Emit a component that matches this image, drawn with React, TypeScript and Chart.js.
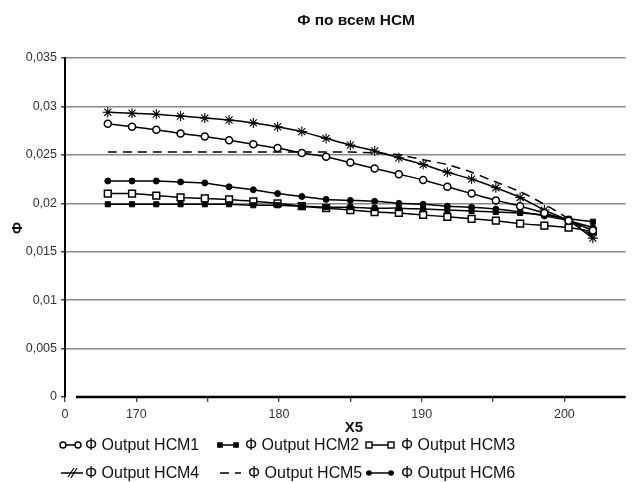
import React, { useEffect, useRef } from 'react';
import { Chart, registerables } from 'chart.js';

Chart.register(...registerables);

const FONT = '"Liberation Sans", Arial, sans-serif';

const titleText = 'Ф по всем НСМ';
const xTitle = 'X5';
const yTitle = 'Ф';

const xValues = [168, 169.7, 171.4, 173.1, 174.8, 176.5, 178.2, 179.9, 181.6, 183.3, 185, 186.7, 188.4, 190.1, 191.8, 193.5, 195.2, 196.9, 198.6, 200.3, 202];

const hcm1 = [0.0282, 0.0279, 0.0276, 0.0272, 0.0269, 0.0265, 0.0261, 0.0257, 0.0252, 0.0248, 0.0242, 0.0236, 0.0230, 0.0224, 0.0217, 0.0210, 0.0203, 0.0197, 0.0190, 0.0182, 0.0172];
const hcm2 = [0.0199, 0.0199, 0.0199, 0.0199, 0.0199, 0.0199, 0.0198, 0.0198, 0.0197, 0.0196, 0.0196, 0.0195, 0.0195, 0.0194, 0.0193, 0.0192, 0.0191, 0.0190, 0.0188, 0.0184, 0.0181];
const hcm3 = [0.0210, 0.0210, 0.0208, 0.0206, 0.0205, 0.0204, 0.0202, 0.0200, 0.0197, 0.0195, 0.0193, 0.0191, 0.0190, 0.0188, 0.0186, 0.0184, 0.0182, 0.0179, 0.0177, 0.0175, 0.0171];
const hcm4 = [0.0294, 0.0293, 0.0292, 0.0290, 0.0288, 0.0286, 0.0283, 0.0279, 0.0274, 0.0267, 0.0260, 0.0254, 0.0247, 0.0240, 0.0232, 0.0225, 0.0216, 0.0206, 0.0193, 0.0182, 0.0164];
const hcm5 = [0.0253, 0.0253, 0.0253, 0.0253, 0.0253, 0.0253, 0.0253, 0.0253, 0.0253, 0.0253, 0.0253, 0.0252, 0.0250, 0.0245, 0.0240, 0.0232, 0.0222, 0.0212, 0.0199, 0.0184, 0.0166];
const hcm6 = [0.0223, 0.0223, 0.0223, 0.0222, 0.0221, 0.0217, 0.0214, 0.0210, 0.0207, 0.0204, 0.0203, 0.0202, 0.0200, 0.0199, 0.0197, 0.0196, 0.0194, 0.0191, 0.0187, 0.0182, 0.0175];

const seriesLabels = ['Ф Output НСМ1', 'Ф Output НСМ2', 'Ф Output НСМ3', 'Ф Output НСМ4', 'Ф Output НСМ5', 'Ф Output НСМ6'];
const xTickValues = [165, 170, 175, 180, 185, 190, 195, 200];
const xTickLabels = ['0', '170', '', '180', '', '190', '', '200'];

const toPts = (ys: number[]) => ys.map((y, i) => ({ x: xValues[i], y }));

type Marker = 'circleOpen' | 'squareFilled' | 'squareOpen' | 'star' | 'none' | 'circleFilled';
const markers: Marker[] = ['circleOpen', 'squareFilled', 'squareOpen', 'star', 'none', 'circleFilled'];

const legendPos = [
  { sx: 60, ex: 81, tx: 85, y: 445 },
  { sx: 217, ex: 239, tx: 245, y: 445 },
  { sx: 366, ex: 394, tx: 401, y: 445 },
  { sx: 61, ex: 83, tx: 85, y: 473 },
  { sx: 220, ex: 241, tx: 248, y: 473 },
  { sx: 366, ex: 394, tx: 401, y: 473 },
];

function drawMarker(ctx: CanvasRenderingContext2D, m: Marker, x: number, y: number) {
  ctx.save();
  ctx.setLineDash([]);
  ctx.strokeStyle = '#000';
  ctx.lineWidth = 1.4;
  if (m === 'circleOpen') {
    ctx.fillStyle = '#fff';
    ctx.beginPath(); ctx.arc(x, y, 3, 0, Math.PI * 2); ctx.fill(); ctx.stroke();
  } else if (m === 'circleFilled') {
    ctx.fillStyle = '#000';
    ctx.beginPath(); ctx.arc(x, y, 2.8, 0, Math.PI * 2); ctx.fill();
  } else if (m === 'squareFilled') {
    ctx.fillStyle = '#000';
    ctx.fillRect(x - 2.8, y - 2.8, 5.6, 5.6);
  } else if (m === 'squareOpen') {
    ctx.fillStyle = '#fff';
    ctx.fillRect(x - 3, y - 3, 6, 6); ctx.strokeRect(x - 3, y - 3, 6, 6);
  } else if (m === 'star') {
    ctx.lineWidth = 1.2;
    ctx.beginPath();
    ctx.moveTo(x - 3, y + 5); ctx.lineTo(x + 3, y - 5);
    ctx.moveTo(x - 6, y + 4); ctx.lineTo(x, y - 5);
    ctx.stroke();
  }
  ctx.restore();
}

const decorPlugin = {
  id: 'decor',
  afterDraw(chart: any) {
    const ctx: CanvasRenderingContext2D = chart.ctx;
    const area = chart.chartArea;
    ctx.save();
    ctx.strokeStyle = '#000';
    ctx.lineWidth = 2.5;
    ctx.beginPath();
    ctx.moveTo(76, area.bottom);
    ctx.lineTo(area.right, area.bottom);
    ctx.stroke();

    ctx.fillStyle = '#111';
    ctx.textAlign = 'center';
    ctx.textBaseline = 'middle';
    ctx.font = `bold 15.5px ${FONT}`;
    ctx.fillText(titleText, 356, 21);
    ctx.font = `bold 15px ${FONT}`;
    ctx.fillText(xTitle, 354, 428);
    ctx.save();
    ctx.translate(18, 228);
    ctx.rotate(-Math.PI / 2);
    ctx.font = `bold 14px ${FONT}`;
    ctx.fillText(yTitle, 0, 0);
    ctx.restore();

    chart.data.datasets.forEach((ds: any, i: number) => {
      const p = legendPos[i];
      const m = markers[i];
      ctx.save();
      ctx.strokeStyle = '#000';
      ctx.lineWidth = 1.5;
      ctx.setLineDash(ds.borderDash || []);
      ctx.beginPath();
      ctx.moveTo(p.sx, p.y);
      ctx.lineTo(p.ex, p.y);
      ctx.stroke();
      ctx.restore();
      if (m === 'star') {
        drawMarker(ctx, m, (p.sx + p.ex) / 2 + 2, p.y);
      } else if (m !== 'none') {
        drawMarker(ctx, m, p.sx + 3, p.y);
        drawMarker(ctx, m, p.ex - 3, p.y);
      }
      ctx.fillStyle = '#111';
      ctx.textAlign = 'left';
      ctx.textBaseline = 'middle';
      ctx.font = `16px ${FONT}`;
      ctx.fillText(ds.label, p.tx, p.y + 1);
    });
    ctx.restore();
  },
};

const base = {
  borderColor: '#000',
  borderWidth: 1.5,
  tension: 0.2,
  pointBorderColor: '#000',
  fill: false,
};

export default function App() {
  const ref = useRef<HTMLCanvasElement>(null);
  useEffect(() => {
    Chart.defaults.font.family = FONT;
    const chart = new Chart(ref.current as HTMLCanvasElement, {
      type: 'line',
      data: {
        datasets: [
          { ...base, label: seriesLabels[0], data: toPts(hcm1), pointStyle: 'circle', pointRadius: 3.5, pointBackgroundColor: '#fff', pointBorderWidth: 1.5 },
          { ...base, label: seriesLabels[1], data: toPts(hcm2), pointStyle: 'rect', pointRadius: 3.6, pointBackgroundColor: '#000', pointBorderWidth: 1 },
          { ...base, label: seriesLabels[2], data: toPts(hcm3), pointStyle: 'rect', pointRadius: 4.8, pointBackgroundColor: '#fff', pointBorderWidth: 1.5 },
          { ...base, label: seriesLabels[3], data: toPts(hcm4), pointStyle: 'star', pointRadius: 5, pointBackgroundColor: '#000', pointBorderWidth: 1.1 },
          { ...base, label: seriesLabels[4], data: toPts(hcm5), pointRadius: 0, borderDash: [9, 6] },
          { ...base, label: seriesLabels[5], data: toPts(hcm6), pointStyle: 'circle', pointRadius: 3, pointBackgroundColor: '#000', pointBorderWidth: 1 },
        ],
      } as any,
      options: {
        responsive: false,
        animation: false,
        layout: { padding: { top: 58, left: 0, right: 0, bottom: 0 } },
        plugins: { legend: { display: false }, title: { display: false }, tooltip: { enabled: false } },
        scales: {
          x: {
            type: 'linear',
            min: 165,
            max: 204.3,
            afterBuildTicks: (scale: any) => {
              scale.ticks = xTickValues.map((v) => ({ value: v }));
            },
            afterFit: (scale: any) => {
              scale.height = 85;
              scale.paddingLeft = 0;
              scale.paddingRight = 0;
            },
            ticks: {
              color: '#333',
              font: { size: 12.5 },
              padding: 5,
              maxRotation: 0,
              autoSkip: false,
              callback: (v: any) => {
                const idx = xTickValues.indexOf(Number(v));
                return idx >= 0 ? xTickLabels[idx] : '';
              },
            },
            grid: { drawOnChartArea: false, drawTicks: true, tickLength: 5, tickColor: '#444', lineWidth: 1.3 },
            border: { display: false },
          },
          y: {
            min: 0,
            max: 0.035,
            afterFit: (scale: any) => {
              scale.width = 65;
              scale.paddingTop = 0;
              scale.paddingBottom = 0;
            },
            ticks: {
              stepSize: 0.005,
              color: '#333',
              font: { size: 12.5 },
              padding: 4,
              callback: (v: any) => Number(Number(v).toFixed(3)).toString().replace('.', ','),
            },
            grid: {
              color: (c: any) => (c.tick && c.tick.value === 0 ? 'rgba(0,0,0,0)' : '#888'),
              lineWidth: 1.5,
              tickLength: 4,
              tickColor: '#444',
            },
            border: { display: true, color: '#000', width: 2 },
          },
        },
      } as any,
      plugins: [decorPlugin],
    });
    return () => chart.destroy();
  }, []);
  return (
    <div style={{ position: 'absolute', left: 0, top: 0, width: 632, height: 482, background: '#fff' }}>
      <canvas ref={ref} width={632} height={482} style={{ display: 'block', width: 632, height: 482 }} />
    </div>
  );
}
